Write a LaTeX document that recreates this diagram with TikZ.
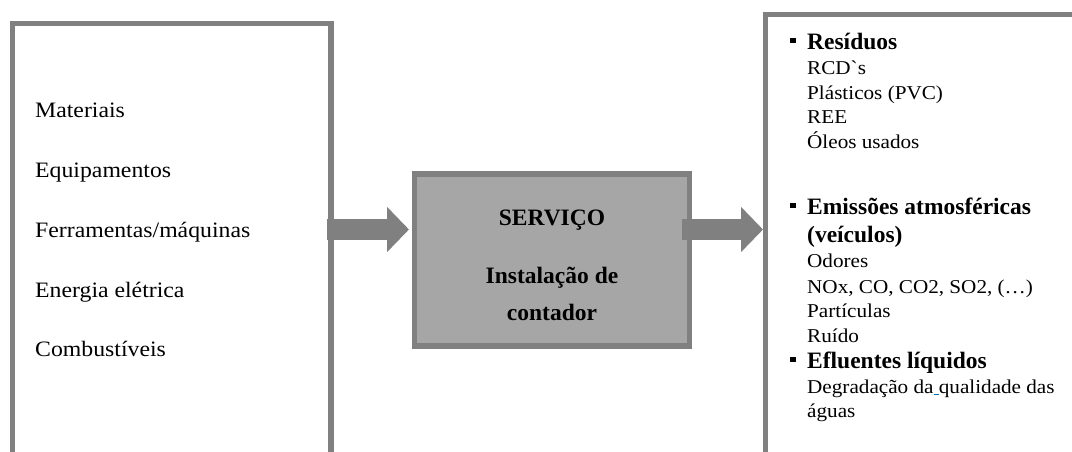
\documentclass[tikz,border=0pt]{standalone}
\usepackage{fontspec}
\setmainfont{Liberation Serif}
\newfontfamily\wide{Liberation Serif}[FakeStretch=1.08]
\newfontfamily\widenolig{Liberation Serif}[FakeStretch=1.08,Ligatures=TeXOff]
\usetikzlibrary{arrows.meta,calc}
\definecolor{bordergray}{HTML}{808080}
\definecolor{fillgray}{HTML}{A6A6A6}
\definecolor{linkblue}{HTML}{0070C0}
\begin{document}
\begin{tikzpicture}[x=1pt,y=-1pt,
  box/.style={draw=bordergray, line width=5.5pt, inner sep=0pt, outer sep=0pt, rectangle, anchor=north west},
  midbox/.style={box, fill=fillgray},
  ltext/.style={anchor=base west, inner sep=0pt, font=\wide\fontsize{22}{26}\selectfont},
  rtext/.style={anchor=base west, inner sep=0pt, font=\wide\fontsize{19.6}{23}\selectfont},
  rhead/.style={anchor=base west, inner sep=0pt, font=\bfseries\fontsize{23.5}{27}\selectfont},
  mtext/.style={anchor=base, inner sep=0pt, font=\bfseries\fontsize{23.5}{27}\selectfont},
  blockarrow/.style={draw=bordergray, line width=21pt, -{Triangle[length=22pt,width=44pt]}},
  bulletsq/.style={fill=black}
]
\useasboundingbox (0,0) rectangle (1072,451);
\clip (0,0) rectangle (1072,451);

% boxes
\node[box, minimum width=318.5pt, minimum height=470pt] (lbox) at (12.5,23.5) {};
\node[midbox, minimum width=275pt, minimum height=172pt] (mid) at (414.5,174) {};
\node[box, minimum width=330pt, minimum height=470pt] (rbox) at (765.5,14.5) {};

% arrows
\coordinate (ay) at (0,229.5);
\draw[blockarrow] ($(lbox.east |- ay)+(-4,0)$) -- ($(mid.west |- ay)+(-5.5,0)$);
\draw[blockarrow] ($(mid.east |- ay)+(-7.5,0)$) -- ($(rbox.west |- ay)+(-2.5,0)$);

% left texts
\node[ltext] (l1) at (35,117) {Materiais};
\node[ltext] (l2) at (35,177) {Equipamentos};
\node[ltext] (l3) at (35,237) {Ferramentas/máquinas};
\node[ltext] (l4) at (35,297) {Energia elétrica};
\node[ltext] (l5) at (35,356) {Combustíveis};

% middle texts
\node[mtext] (m1) at (552,225) {SERVIÇO};
\node[mtext] (m2) at (552,283) {Instalação de};
\node[mtext] (m3) at (552,320) {contador};

% right texts
\node[rhead] (h1) at (807,49) {Resíduos};
\node[rtext] (r1) at (807,74) {\widenolig RCD`s};
\node[rtext] (r2) at (807,99) {Plásticos (PVC)};
\node[rtext] (r3) at (807,123) {REE};
\node[rtext] (r4) at (807,148) {Óleos usados};
\node[rhead] (h2) at (807,214) {Emissões atmosféricas};
\node[rhead] (h2b) at (807,242) {(veículos)};
\node[rtext] (r5) at (807,267) {Odores};
\node[rtext] (r6) at (807,293) {NOx, CO, CO2, SO2, (…)};
\node[rtext] (r7) at (807,317) {Partículas};
\node[rtext] (r8) at (807,342) {Ruído};
\node[rhead] (h3) at (807,368) {Efluentes líquidos};
\node[rtext] (r9) at (807,393) {Degradação da\textcolor{linkblue}{\underline{\ }}qualidade das};
\node[rtext] (r10) at (807,417) {águas};

% bullets
\foreach \h in {h1,h2,h3}
  \fill[bulletsq] ($(\h.base west)+(-17,-6)$) rectangle +(5.5,-5.5);
\end{tikzpicture}
\end{document}
